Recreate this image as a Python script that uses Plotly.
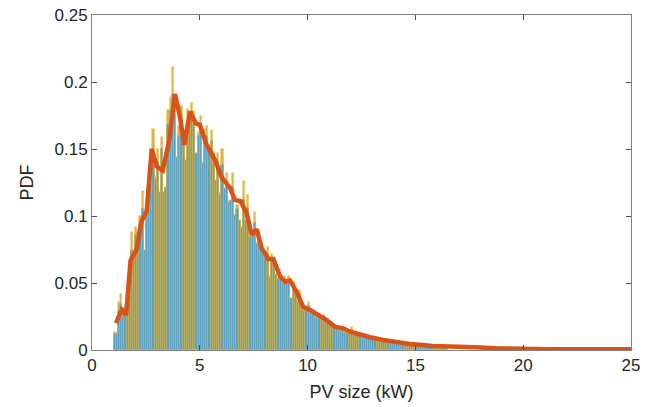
import numpy as np
import plotly.graph_objects as go

# histogram bins: left edges from 1.0 kW in steps of 0.1 kW
bin_start = 1.0
bin_width = 0.1

pdf_yellow = [
    0.0137, 0.0124, 0.036, 0.042, 0.026, 0.032, 0.034, 0.060, 0.088, 0.075,
    0.092, 0.090, 0.100, 0.119, 0.075, 0.105, 0.107, 0.150, 0.165, 0.129,
    0.150, 0.118, 0.159, 0.118, 0.122, 0.179, 0.189, 0.211, 0.187, 0.144,
    0.167, 0.182, 0.164, 0.142, 0.180, 0.172, 0.184, 0.178, 0.147, 0.163,
    0.175, 0.140, 0.165, 0.167, 0.153, 0.164, 0.148, 0.127, 0.147, 0.117,
    0.150, 0.121, 0.132, 0.111, 0.112, 0.132, 0.101, 0.108, 0.097, 0.092,
    0.126, 0.097, 0.116, 0.085, 0.085, 0.103, 0.080, 0.088, 0.080, 0.075,
    0.070, 0.077, 0.055, 0.072, 0.067, 0.057, 0.054, 0.055, 0.050, 0.055,
    0.050, 0.055, 0.039, 0.051, 0.042, 0.037, 0.045, 0.031, 0.030, 0.030,
    0.036, 0.029, 0.027, 0.026, 0.025, 0.025, 0.023, 0.026, 0.022, 0.021,
    0.020, 0.019, 0.018, 0.016, 0.015, 0.015, 0.014, 0.014, 0.013, 0.014,
    0.017, 0.013, 0.012, 0.012, 0.011, 0.011, 0.011, 0.010, 0.010, 0.009,
    0.009, 0.009, 0.008, 0.008, 0.008, 0.0075, 0.007, 0.007, 0.0068, 0.0065,
    0.006, 0.0058, 0.0055, 0.0052, 0.005, 0.0045, 0.0042, 0.004, 0.0038, 0.0035,
    0.0032, 0.003, 0.0028, 0.0027, 0.0025, 0.0024, 0.0022, 0.002, 0.0019, 0.0018,
    0.0017, 0.0015, 0.0014, 0.0013, 0.0012,
]

pdf_blue = [
    0.012, 0.012, 0.028, 0.034, 0.025, 0.030, 0.033, 0.052, 0.075, 0.073,
    0.086, 0.088, 0.095, 0.105, 0.074, 0.100, 0.104, 0.138, 0.148, 0.127,
    0.140, 0.117, 0.150, 0.117, 0.121, 0.168, 0.178, 0.190, 0.176, 0.143,
    0.160, 0.172, 0.160, 0.141, 0.170, 0.168, 0.174, 0.172, 0.146, 0.160,
    0.168, 0.139, 0.158, 0.160, 0.150, 0.156, 0.146, 0.126, 0.140, 0.116,
    0.138, 0.120, 0.126, 0.110, 0.111, 0.122, 0.100, 0.105, 0.096, 0.091,
    0.112, 0.096, 0.106, 0.084, 0.084, 0.095, 0.079, 0.085, 0.079, 0.074,
    0.069, 0.072, 0.054, 0.068, 0.065, 0.056, 0.053, 0.054, 0.049, 0.052,
    0.049, 0.051, 0.038, 0.048, 0.041, 0.036, 0.041, 0.030, 0.029, 0.029,
    0.033, 0.028, 0.027, 0.025, 0.024, 0.024, 0.022, 0.024, 0.021, 0.020,
    0.019, 0.018, 0.017, 0.016, 0.015, 0.014, 0.014, 0.013, 0.013, 0.013,
    0.015, 0.012, 0.012, 0.011, 0.011, 0.010, 0.010, 0.010, 0.009, 0.009,
    0.0085, 0.0085, 0.008, 0.0078, 0.0075, 0.0072, 0.007, 0.0068, 0.0065, 0.0062,
    0.006, 0.0056, 0.0053, 0.005, 0.0048, 0.0044, 0.0041, 0.0039, 0.0036, 0.0034,
    0.0031, 0.0029, 0.0027, 0.0026, 0.0024, 0.0023, 0.0021, 0.0019, 0.0018, 0.0017,
    0.0016, 0.0014, 0.0013, 0.0012, 0.0011,
]

line_x = [1.11, 1.38, 1.58, 1.79, 2.07, 2.30, 2.54, 2.77, 3.0, 3.28, 3.59, 3.85,
          4.08, 4.28, 4.55, 4.82, 5.0, 5.32, 5.70, 6.01, 6.40, 6.63, 6.90, 7.17,
          7.41, 7.64, 7.87, 8.18, 8.41, 8.72, 8.95, 9.18, 9.49, 9.80, 10.11, 10.50,
          10.88, 11.27, 11.66, 11.97, 12.43, 12.9, 13.51, 14.13, 14.75, 15.2, 15.8,
          17.8, 18.9, 21.2, 25.0]
line_y = [0.020, 0.030, 0.026, 0.067, 0.075, 0.096, 0.104, 0.150, 0.137, 0.134,
          0.157, 0.191, 0.174, 0.153, 0.178, 0.169, 0.168, 0.153, 0.142, 0.129,
          0.121, 0.112, 0.111, 0.102, 0.086, 0.090, 0.076, 0.068, 0.068, 0.055,
          0.051, 0.052, 0.0435, 0.032, 0.030, 0.026, 0.0224, 0.0174, 0.0162, 0.0137,
          0.0112, 0.0095, 0.0075, 0.0057, 0.0045, 0.004, 0.003, 0.002, 0.0012,
          0.0005, 0.0005]

x_ticks = [0, 5, 10, 15, 20, 25]
y_ticks = [0, 0.05, 0.1, 0.15, 0.2, 0.25]
y_ticktext = ["0", "0.05", "0.1", "0.15", "0.2", "0.25"]

centers = bin_start + bin_width * (np.arange(len(pdf_yellow)) + 0.5)

fig = go.Figure()
fig.add_trace(go.Bar(x=centers, y=pdf_yellow, width=bin_width,
                     marker=dict(color="#D4B24A", line=dict(width=0.7, color="#F0CE76")),
                     showlegend=False))
fig.add_trace(go.Bar(x=centers, y=pdf_blue, width=bin_width,
                     marker=dict(color="#4FA2D2", line=dict(width=0.9, color="#B8AE62")),
                     opacity=0.9, showlegend=False))
fig.add_trace(go.Scatter(x=line_x, y=line_y, mode="lines",
                         line=dict(color="#D95319", width=4.5),
                         showlegend=False))

font_family = "Liberation Sans, Arial, sans-serif"
axis_common = dict(showline=True, linecolor="#808080", linewidth=1, mirror="ticks",
                   ticks="inside", ticklen=5, tickcolor="#4d4d4d", showgrid=False,
                   zeroline=False, automargin=False,
                   tickfont=dict(family=font_family, size=17, color="#262626"))

fig.update_layout(
    width=659, height=407,
    margin=dict(l=92, r=28, t=15, b=57),
    paper_bgcolor="white", plot_bgcolor="white",
    barmode="overlay", bargap=0,
    xaxis=dict(range=[0, 25], tickvals=x_ticks,
               title=dict(text="PV size (kW)", font=dict(family=font_family, size=18, color="#262626"), standoff=10),
               **axis_common),
    yaxis=dict(range=[0, 0.25], tickvals=y_ticks, ticktext=y_ticktext,
               title=dict(text="PDF", font=dict(family=font_family, size=18, color="#262626"), standoff=16),
               **axis_common),
)

fig.write_html("out.html", config={"displayModeBar": False},
               post_script="document.body.style.margin='0px';document.body.style.overflow='hidden';")
